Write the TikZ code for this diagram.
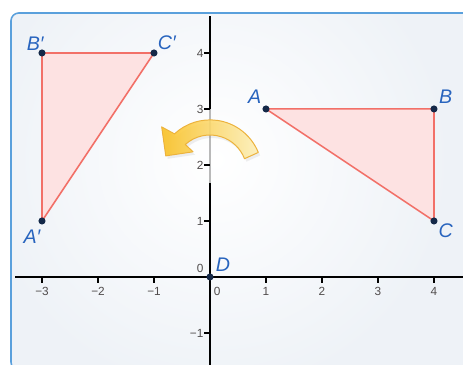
\documentclass[tikz,border=0pt]{standalone}
\usepackage{fontspec}
\setmainfont{Liberation Sans}
\usepackage{tikz}
\usetikzlibrary{shadows}
\definecolor{framecolor}{RGB}{90,160,220}
\definecolor{panelcolor}{RGB}{238,242,247}
\definecolor{trifill}{RGB}{253,226,226}
\definecolor{triedge}{RGB}{242,112,104}
\definecolor{dotcolor}{RGB}{20,40,72}
\definecolor{labelcolor}{RGB}{40,100,190}
\definecolor{numcolor}{RGB}{80,76,76}
\definecolor{arrowgold}{RGB}{250,192,30}
\definecolor{arrowpale}{RGB}{255,241,185}
\definecolor{arrowedge}{RGB}{236,178,60}

\tikzset{
  ptlabel/.style={font=\fontsize{10}{12}\selectfont\itshape, text=labelcolor, inner sep=0pt},
  axisnum/.style={font=\fontsize{6}{7}\selectfont, text=numcolor, inner sep=0pt},
  triangle/.style={draw=triedge, fill=trifill, line width=0.8pt, line join=round},
  ptdot/.style={circle, fill=dotcolor, inner sep=0pt, minimum size=3.6pt},
  turnarrow/.style={left color=arrowgold, right color=arrowpale, draw=arrowedge,
    line width=0.5pt, fill opacity=0.88, line join=round,
    drop shadow={opacity=0.12, shadow xshift=1pt, shadow yshift=-1.5pt}},
}

\begin{document}
\begin{tikzpicture}
  \useasboundingbox (-3.75,-1.571) rectangle (4.518,4.946);
  % panel with a soft glow round the arrow
  \begin{scope}
    \clip[rounded corners=4pt] (-3.554,-1.66) rectangle (4.8,4.714);
    \fill[panelcolor] (-3.554,-1.66) rectangle (4.8,4.714);
    \shade[inner color=white, outer color=panelcolor] (0.1,2.1) circle (4.2);
  \end{scope}
  \draw[rounded corners=4pt, line width=0.8pt, framecolor] (-3.554,-1.66) rectangle (4.8,4.714);

  % axes
  \draw[line width=0.9pt] (-3.48,0) -- (4.6,0);
  \draw[line width=0.9pt] (0,4.66) -- (0,-1.6);
  \draw[gray!55, line width=0.9pt] (0,3) -- (0,1.68);
  \foreach \x/\t [count=\i] in {-3/−3,-2/−2,-1/−1,1/1,2/2,3/3,4/4} {
    \draw[line width=0.6pt] (\x,0) -- (\x,-0.1);
    \node[axisnum] (xnum\i) at (\x,-0.25) {\t};
  }
  \foreach \y/\t [count=\i] in {-1/−1,1/1,2/2,3/3,4/4} {
    \draw[line width=0.6pt] (0,\y) -- (-0.1,\y);
    \node[axisnum, anchor=east] (ynum\i) at (-0.11,\y) {\t};
  }
  \node[axisnum, anchor=east] (yzero) at (-0.11,0.16) {0};
  \node[axisnum] (xzero) at (0.13,-0.25) {0};

  % points
  \coordinate (A) at (1,3);
  \coordinate (B) at (4,3);
  \coordinate (C) at (4,1);
  \coordinate (Ap) at (-3,1);
  \coordinate (Bp) at (-3,4);
  \coordinate (Cp) at (-1,4);
  \coordinate (D) at (0,0);

  % triangles
  \filldraw[triangle] (A) -- (B) -- (C) -- cycle;
  \filldraw[triangle] (Ap) -- (Bp) -- (Cp) -- cycle;

  % rotation arrow
  \begin{scope}[shift={(0,1.875)}]
    \shade[turnarrow] (22:0.93) arc[start angle=22, end angle=133, radius=0.93]
      -- (137:1.18) -- (160:0.84) -- (130:0.47) -- (132:0.66)
      arc[start angle=132, end angle=21, radius=0.66] -- cycle;
  \end{scope}

  \foreach \p in {A,B,C,Ap,Bp,Cp,D}
    \node[ptdot] (dot\p) at (\p) {};

  \node[ptlabel] (labA) at ([shift={(-0.2,0.21)}]A) {A};
  \node[ptlabel] (labB) at ([shift={(0.21,0.21)}]B) {B};
  \node[ptlabel] (labC) at ([shift={(0.21,-0.18)}]C) {C};
  \node[ptlabel] (labAp) at ([shift={(-0.18,-0.29)}]Ap) {A′};
  \node[ptlabel] (labBp) at ([shift={(-0.12,0.17)}]Bp) {B′};
  \node[ptlabel] (labCp) at ([shift={(0.23,0.18)}]Cp) {C′};
  \node[ptlabel] (labD) at ([shift={(0.23,0.22)}]D) {D};
\end{tikzpicture}
\end{document}
